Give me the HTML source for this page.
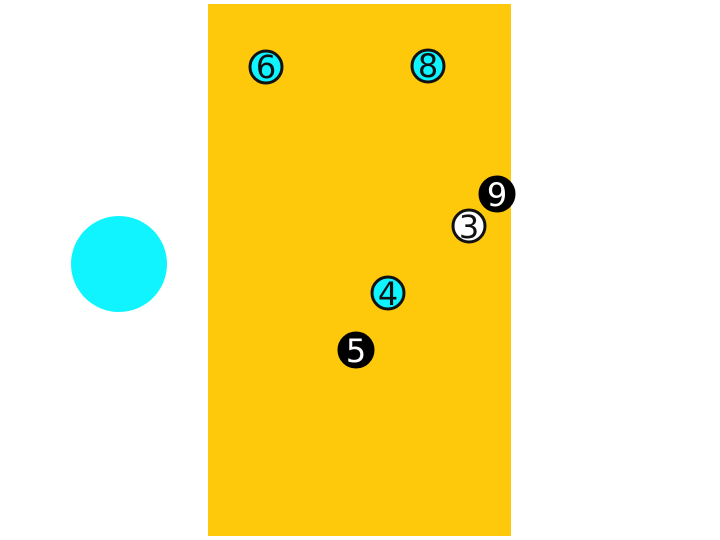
<!DOCTYPE html>
<html><head><style>html,body{margin:0;padding:0;background:#fff}</style></head>
<body>
<svg width="720" height="540" xmlns="http://www.w3.org/2000/svg" style="display:block">
<rect x="0" y="0" width="720" height="540" fill="#fff"/>
<rect x="208" y="4" width="303" height="532" fill="#FFC90B"/>
<circle cx="119" cy="264" r="48" fill="#0FF4FF"/>
<g font-family="DejaVu Sans, Liberation Sans, sans-serif" font-size="32" text-anchor="middle" stroke-width="3">
<circle cx="266" cy="67" r="16" fill="#0FF4FF" stroke="#111"/>
<text x="266" y="78" fill="#111" stroke="none">6</text>
<circle cx="428" cy="66" r="16" fill="#0FF4FF" stroke="#111"/>
<text x="428" y="77" fill="#111" stroke="none">8</text>
<circle cx="497" cy="194" r="17" fill="#000" stroke="#000"/>
<text x="497" y="206" fill="#fff" stroke="none">9</text>
<circle cx="469" cy="226" r="16" fill="#fff" stroke="#111"/>
<text x="469" y="238" fill="#111" stroke="none">3</text>
<circle cx="388" cy="293" r="16" fill="#0FF4FF" stroke="#111"/>
<text x="388" y="305" fill="#111" stroke="none">4</text>
<circle cx="356" cy="350" r="17" fill="#000" stroke="#000"/>
<text x="356" y="362" fill="#fff" stroke="none">5</text>
</g>
</svg>
</body></html>
